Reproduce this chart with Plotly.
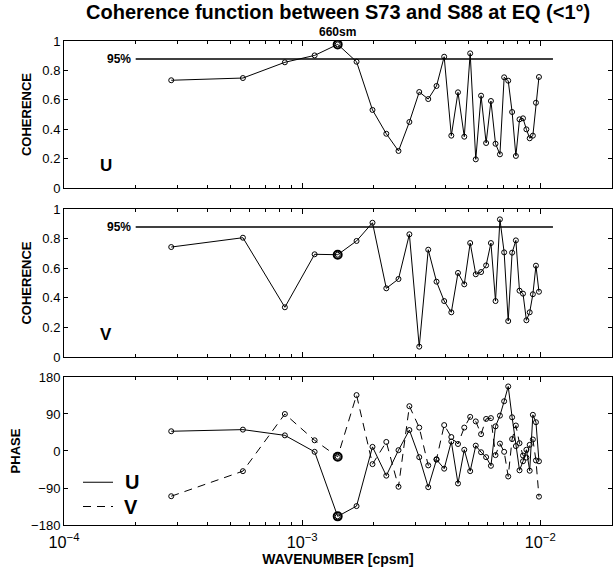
import math
import plotly.graph_objects as go

# ---------------- data ----------------
wavenumber = [0.000282, 0.000564, 0.000846, 0.001128, 0.00141, 0.001692, 0.001974,
              0.002256, 0.002538, 0.00282, 0.003102, 0.003384, 0.003666, 0.003948,
              0.00423, 0.004512, 0.004794, 0.005076, 0.005358, 0.00564, 0.005922,
              0.006204, 0.006486, 0.006768, 0.00705, 0.007332, 0.007614, 0.007896,
              0.008178, 0.00846, 0.008742, 0.009024, 0.009306, 0.009588, 0.00987]

u_coherence = [0.733, 0.748, 0.855, 0.902, 0.977, 0.859, 0.531, 0.369, 0.252, 0.449,
               0.653, 0.605, 0.694, 0.893, 0.356, 0.651, 0.349, 0.916, 0.195, 0.628,
               0.306, 0.592, 0.301, 0.229, 0.753, 0.730, 0.517, 0.218, 0.467, 0.474,
               0.399, 0.338, 0.356, 0.580, 0.755]

v_coherence = [0.743, 0.806, 0.336, 0.694, 0.691, 0.784, 0.907, 0.464, 0.527, 0.829,
               0.07, 0.725, 0.509, 0.378, 0.302, 0.568, 0.491, 0.770, 0.559, 0.574,
               0.619, 0.770, 0.378, 0.930, 0.707, 0.243, 0.705, 0.788, 0.448, 0.428,
               0.248, 0.302, 0.424, 0.617, 0.441]

u_phase = [48, 52, 38, -2, -159, -134, 10, -60, 2, 51,
           -15, -88, -21, -43, 23, -79, 3, -49, 13, -3,
           -15, -36, 60, 86, 121, 157, 82, 12, -47, -25,
           3, -48, 88, 70, -25]

v_phase = [-110, -49, 90, 26, -14, 136, -32, 22, -87, 109,
           57, -35, -20, 63, 34, 17, 57, 83, 72, 41,
           78, 80, -10, 18, -2, -62, 29, 62, 19, -11,
           -16, 15, 28, -23, -111]

conf95_level = 0.878
conf95_x = [2.0e-4, 1.13e-2]
peak_index = 4
peak_label = "660sm"
x_range = [1e-4, 2e-2]

# ---------------- figure ----------------
FONT = "Liberation Sans, Arial, Helvetica, sans-serif"
fig = go.Figure()

def add_series(yvals, xa, ya, dash):
    fig.add_trace(go.Scatter(
        x=wavenumber, y=yvals, mode="lines+markers", xaxis=xa, yaxis=ya,
        line=dict(color="black", width=1, dash=dash),
        marker=dict(symbol="circle-open", size=5, color="black", line=dict(width=1, color="black")),
        showlegend=False, hoverinfo="x+y"))
    fig.add_trace(go.Scatter(
        x=[wavenumber[peak_index]], y=[yvals[peak_index]], mode="markers",
        xaxis=xa, yaxis=ya,
        marker=dict(symbol="circle-open", size=8, color="black", line=dict(width=2, color="black")),
        showlegend=False, hoverinfo="skip"))

add_series(u_coherence, "x", "y", "solid")
add_series(v_coherence, "x2", "y2", "solid")
add_series(u_phase, "x3", "y3", "solid")
add_series(v_phase, "x3", "y3", "8px,6px")

for xa, ya in (("x", "y"), ("x2", "y2")):
    fig.add_trace(go.Scatter(
        x=conf95_x, y=[conf95_level, conf95_level], mode="lines", xaxis=xa, yaxis=ya,
        line=dict(color="black", width=1.6), showlegend=False, hoverinfo="skip"))

xr = [math.log10(x_range[0]), math.log10(x_range[1])]

xbase = dict(type="log", range=xr, dtick=1, exponentformat="power", showexponent="all",
             ticks="inside", ticklen=5, tickcolor="black", mirror="ticks",
             showline=True, linecolor="black", linewidth=1, showgrid=False, zeroline=False,
             minor=dict(ticks="inside", ticklen=3, tickcolor="black", showgrid=False),
             tickfont=dict(family=FONT, size=13, color="black"), domain=[0, 1])
ybase = dict(ticks="inside", ticklen=4, tickcolor="black", mirror="ticks",
             showline=True, linecolor="black", linewidth=1, showgrid=False, zeroline=False,
             tickfont=dict(family=FONT, size=13, color="black"))

fig.update_layout(
    width=613, height=569,
    margin=dict(l=64, r=1, t=41, b=44),
    paper_bgcolor="white", plot_bgcolor="white",
    font=dict(family=FONT, color="black"),
    xaxis=dict(xbase, anchor="y", showticklabels=False),
    xaxis2=dict(xbase, anchor="y2", showticklabels=False),
    xaxis3=dict(xbase, anchor="y3", showticklabels=True, ticklabelstandoff=3,
                title=dict(text="<b>WAVENUMBER [cpsm]</b>", font=dict(size=14), standoff=0)),
    yaxis=dict(ybase, domain=[0.6963, 1.0], range=[0, 1], dtick=0.2, anchor="x",
               title=dict(text="<b>COHERENCE</b>", font=dict(size=13), standoff=7)),
    yaxis2=dict(ybase, domain=[0.3471, 0.6529], range=[0, 1], dtick=0.2, anchor="x2",
                title=dict(text="<b>COHERENCE</b>", font=dict(size=13), standoff=7)),
    yaxis3=dict(ybase, domain=[0.0, 0.3058], range=[-180, 180], dtick=90, anchor="x3",
                title=dict(text="<b>PHASE</b>", font=dict(size=13), standoff=7)),
)

ann = []
ann.append(dict(text="<b>Coherence function between S73 and S88 at EQ (<1°)</b>",
                xref="paper", yref="paper", x=0.5, y=(525 - 12) / 484,
                xanchor="center", yanchor="middle", showarrow=False, borderpad=0,
                font=dict(size=20, family=FONT)))
ann.append(dict(text="<b>" + peak_label + "</b>", xref="x", yref="paper",
                x=math.log10(wavenumber[peak_index]), y=(525 - 40) / 484,
                xanchor="center", yanchor="bottom", showarrow=False, borderpad=0,
                font=dict(size=12, family=FONT)))
for ya in ("y", "y2"):
    ann.append(dict(text="<b>95%</b>", xref="paper", yref=ya, x=(133 - 64) / 548, y=conf95_level,
                    xanchor="right", yanchor="middle", showarrow=False,
                    font=dict(size=12, family=FONT)))
ann.append(dict(text="<b>U</b>", xref="paper", yref="y", x=(106 - 64) / 548, y=0.15,
                xanchor="center", yanchor="middle", showarrow=False, font=dict(size=17, family=FONT)))
ann.append(dict(text="<b>V</b>", xref="paper", yref="y2", x=(106 - 64) / 548, y=0.155,
                xanchor="center", yanchor="middle", showarrow=False, font=dict(size=17, family=FONT)))
# legend
ann.append(dict(text="<b>U</b>", xref="paper", yref="y3", x=(132 - 64) / 548, y=-76,
                xanchor="center", yanchor="middle", showarrow=False, font=dict(size=20, family=FONT)))
ann.append(dict(text="<b>V</b>", xref="paper", yref="y3", x=(131 - 64) / 548, y=-135,
                xanchor="center", yanchor="middle", showarrow=False, font=dict(size=20, family=FONT)))
fig.update_layout(annotations=ann)

fig.add_shape(type="line", xref="paper", yref="y3", x0=(83 - 64) / 548, x1=(113 - 64) / 548,
              y0=-76, y1=-76, line=dict(color="black", width=1))
fig.add_shape(type="line", xref="paper", yref="y3", x0=(83 - 64) / 548, x1=(113 - 64) / 548,
              y0=-135, y1=-135, line=dict(color="black", width=1, dash="8px,6px"))

fig.write_html("out.html",
               config={"displayModeBar": False},
               post_script="document.body.style.margin='0';document.body.style.overflow='hidden';")
